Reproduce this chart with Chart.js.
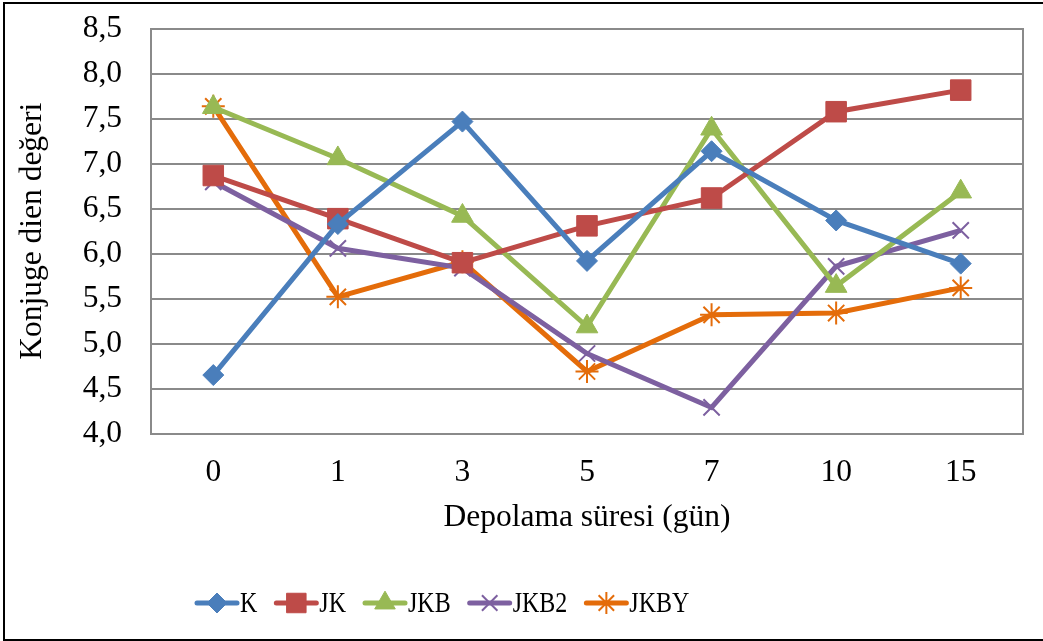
<!DOCTYPE html>
<html>
<head>
<meta charset="utf-8">
<script src="https://cdn.jsdelivr.net/npm/chart.js@4.4.0/dist/chart.umd.min.js"></script>
<style>
  html, body { margin: 0; padding: 0; background: #fff; }
  #wrap { position: absolute; left: 0; top: 0; width: 1043px; height: 641px; }
  #frame { position: absolute; left: 3px; top: 2px; width: 1045px; height: 635px;
           border: 2px solid #000; pointer-events: none; }
</style>
</head>
<body>
<div id="wrap"><canvas id="myChart" width="1043" height="641"></canvas></div>
<div id="frame"></div>
<script>
const days = ['0', '1', '3', '5', '7', '10', '15'];
const valK    = [4.65, 6.33, 7.47, 5.92, 7.14, 6.37, 5.89];
const valJK   = [6.87, 6.39, 5.90, 6.31, 6.62, 7.58, 7.82];
const valJKB  = [7.63, 7.06, 6.42, 5.19, 7.39, 5.64, 6.69];
const valJKB2 = [6.80, 6.06, 5.84, 4.89, 4.29, 5.86, 6.26];
const valJKBY = [7.64, 5.52, 5.91, 4.69, 5.32, 5.34, 5.62];

const FONT = 'Liberation Serif, Times New Roman, serif';
const FSIZE = 31.5;
const gridColor = '#8a8a8a';

function series(label, data, color, style, radius, bw) {
    return {
        label: label,
        data: data,
        borderColor: color,
        backgroundColor: color,
        borderWidth: 5,
        pointStyle: style,
        pointRadius: radius,
        pointHoverRadius: radius,
        pointBorderWidth: bw,
        pointBorderColor: color,
        pointBackgroundColor: color,
        tension: 0
    };
}

const datasets = [
    series('K', valK, '#4a7ebb', 'rectRot', 10.5, 1),
    series('JK', valJK, '#be4b48', 'rect', 14.5, 1),
    series('JKB', valJKB, '#98b954', 'triangle', 12.5, 1),
    series('JKB2', valJKB2, '#7d60a0', 'crossRot', 11.5, 2),
    series('JKBY', valJKBY, '#e46c0a', 'star', 11.5, 2)
];

// legend drawn as line + marker + text, like the original
const lineLegend = {
    id: 'lineLegend',
    afterDraw(chart) {
        const ctx = chart.ctx;
        let x = 197;
        const y = 603;
        const sx = 0.8;
        ctx.save();
        ctx.font = '30px ' + FONT;
        ctx.textBaseline = 'middle';
        ctx.textAlign = 'left';
        chart.data.datasets.forEach(ds => {
            ctx.strokeStyle = ds.borderColor;
            ctx.lineWidth = 5;
            ctx.lineCap = 'round';
            ctx.beginPath();
            ctx.moveTo(x, y);
            ctx.lineTo(x + 40, y);
            ctx.stroke();
            ctx.fillStyle = ds.pointBackgroundColor;
            ctx.strokeStyle = ds.pointBorderColor;
            ctx.lineWidth = ds.pointBorderWidth;
            ctx.lineCap = 'butt';
            Chart.helpers.drawPoint(ctx, {
                pointStyle: ds.pointStyle,
                radius: ds.pointRadius * 0.95,
                rotation: 0,
                borderWidth: ds.pointBorderWidth
            }, x + 20, y);
            ctx.fillStyle = '#000';
            const w = ctx.measureText(ds.label).width * sx;
            ctx.save();
            ctx.translate(x + 43, y + 1);
            ctx.scale(sx, 1);
            ctx.fillText(ds.label, 0, 0);
            ctx.restore();
            x += 43 + w + 19;
        });
        ctx.restore();
    }
};

new Chart(document.getElementById('myChart').getContext('2d'), {
    type: 'line',
    data: { labels: days, datasets: datasets },
    options: {
        responsive: false,
        animation: false,
        layout: { padding: { top: 29, right: 20, bottom: 104, left: 0 } },
        plugins: {
            legend: { display: false },
            tooltip: { enabled: false }
        },
        scales: {
            x: {
                offset: true,
                grid: { display: false },
                border: { display: true, color: gridColor, width: 2 },
                ticks: { color: '#000', font: { family: FONT, size: FSIZE }, padding: 12 },
                title: {
                    display: true,
                    text: 'Depolama süresi (gün)',
                    color: '#000',
                    font: { family: FONT, size: FSIZE },
                    padding: 0
                },
                afterFit(scale) { scale.height = 103.5; }
            },
            y: {
                min: 4.0,
                max: 8.5,
                ticks: {
                    stepSize: 0.5,
                    color: '#000',
                    font: { family: FONT, size: FSIZE },
                    padding: 2,
                    callback: v => v.toFixed(1).replace('.', ',')
                },
                grid: { color: gridColor, lineWidth: 2, drawTicks: true, tickLength: 27, tickColor: 'rgba(0,0,0,0)' },
                border: { display: true, color: gridColor, width: 2 },
                title: {
                    display: true,
                    text: 'Konjuge dien değeri',
                    color: '#000',
                    font: { family: FONT, size: FSIZE },
                    padding: { top: 14, bottom: 0 }
                },
                afterFit(scale) { scale.width = 151; }
            },
            y2: {
                position: 'right',
                min: 4.0,
                max: 8.5,
                ticks: { display: false },
                grid: { display: false },
                border: { display: true, color: gridColor, width: 2 },
                afterFit(scale) { scale.width = 0; }
            }
        }
    },
    plugins: [lineLegend]
});
</script>
</body>
</html>
